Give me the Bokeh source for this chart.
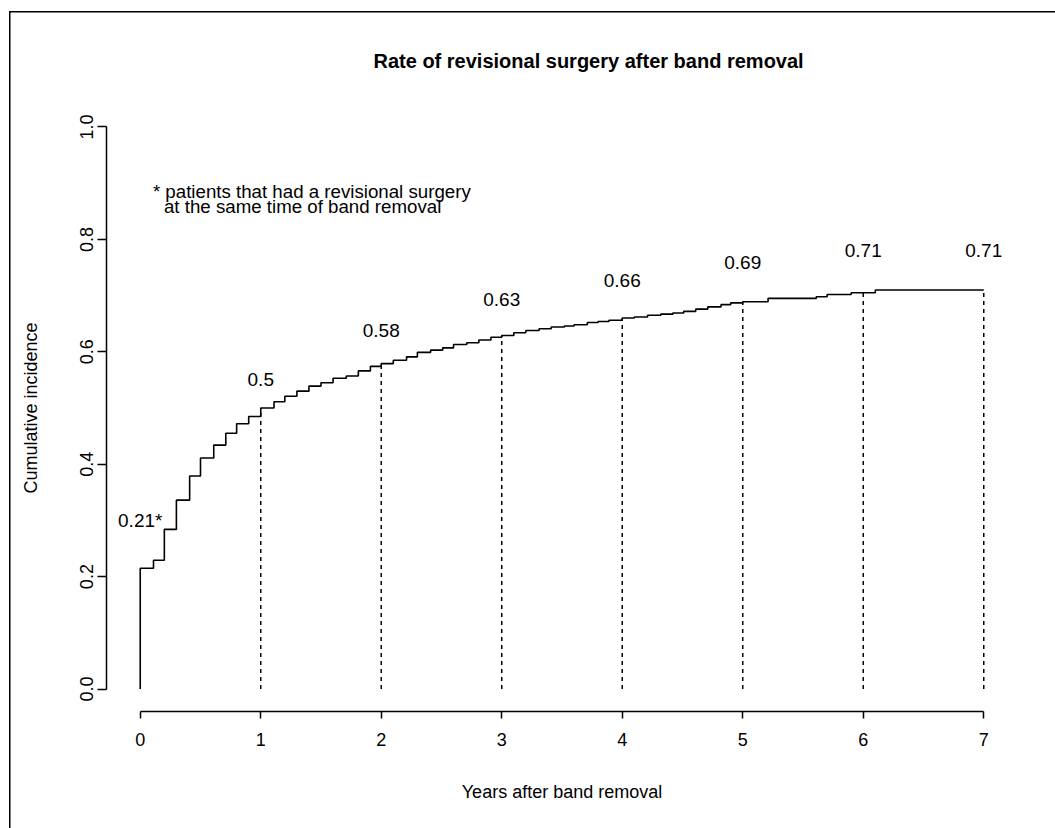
from bokeh.plotting import figure
from bokeh.models import Range1d, FixedTicker, Title, ColumnDataSource
from bokeh.core.properties import value
from bokeh.embed import file_html
from bokeh.resources import INLINE

# ---- data ----
step_years = [0.0, 0.0, 0.11, 0.20, 0.30, 0.41, 0.50, 0.61, 0.71, 0.80, 0.90,
              1.00, 1.11, 1.20, 1.30, 1.40, 1.50, 1.60, 1.71, 1.81, 1.91,
              2.00, 2.10, 2.21, 2.30, 2.41, 2.51, 2.60, 2.71, 2.81, 2.91,
              3.00, 3.10, 3.20, 3.31, 3.41, 3.52, 3.60, 3.71, 3.80, 3.89,
              4.00, 4.10, 4.21, 4.32, 4.42, 4.51, 4.61, 4.71, 4.82, 4.90,
              5.00, 5.21, 5.61, 5.70, 5.90, 6.10, 7.00]
step_incidence = [0.0, 0.215, 0.229, 0.284, 0.336, 0.379, 0.411, 0.434, 0.455, 0.472, 0.485,
                  0.500, 0.511, 0.521, 0.530, 0.539, 0.545, 0.553, 0.557, 0.566, 0.574,
                  0.579, 0.585, 0.591, 0.599, 0.603, 0.607, 0.613, 0.616, 0.621, 0.626,
                  0.629, 0.634, 0.638, 0.641, 0.644, 0.646, 0.648, 0.652, 0.654, 0.656,
                  0.660, 0.662, 0.665, 0.667, 0.669, 0.672, 0.676, 0.680, 0.684, 0.687,
                  0.689, 0.695, 0.698, 0.702, 0.705, 0.710, 0.710]

mark_years = [1, 2, 3, 4, 5, 6, 7]
mark_values = [0.500, 0.579, 0.629, 0.660, 0.689, 0.705, 0.710]
mark_labels = ["0.5", "0.58", "0.63", "0.66", "0.69", "0.71", "0.71"]

first_label = "0.21*"
x_ticks = [0, 1, 2, 3, 4, 5, 6, 7]
y_ticks = [0.0, 0.2, 0.4, 0.6, 0.8, 1.0]
y_tick_labels = ["0.0", "0.2", "0.4", "0.6", "0.8", "1.0"]

title_text = "Rate of revisional surgery after band removal"
note_line1 = "* patients that had a revisional surgery"
note_line2 = "at the same time of band removal"

FONT = "Liberation Sans"

p = figure(width=1055, height=828, output_backend="svg", toolbar_location=None,
           x_range=Range1d(-0.28, 7.28), y_range=Range1d(-0.04, 1.04),
           min_border_left=106, min_border_right=38, min_border_top=104, min_border_bottom=117,
           background_fill_color="white", border_fill_color=None)
p.outline_line_color = None
p.grid.visible = False

# outer frame line of the figure (left and top edges), drawn behind the transparent border area
p.styles = {
    "background-color": "white",
    "background-image": "linear-gradient(#000, #000), linear-gradient(#000, #000)",
    "background-size": "1.5px 100%, 100% 1.5px",
    "background-position": "9px 11px, 9px 11px",
    "background-repeat": "no-repeat",
}

# title
t = Title(text=title_text, align="left", text_font=FONT, text_font_size="20px",
          text_font_style="bold", text_color="black", offset=267, standoff=66)
p.add_layout(t, "above")

# axes
for ax in (p.xaxis[0], p.yaxis[0]):
    ax.axis_line_color = "black"
    ax.axis_line_width = 1.5
    ax.major_tick_line_color = "black"
    ax.major_tick_line_width = 1.5
    ax.minor_tick_line_color = None
    ax.major_tick_in = 0
    ax.major_label_text_font = FONT
    ax.major_label_text_font_size = "18px"
    ax.major_label_text_color = "black"
    ax.axis_label_text_font = FONT
    ax.axis_label_text_font_size = "18px"
    ax.axis_label_text_font_style = "normal"
    ax.axis_label_text_color = "black"

xa = p.xaxis[0]
xa.ticker = FixedTicker(ticks=x_ticks)
xa.bounds = (0, 7)
xa.major_tick_out = 7
xa.major_label_standoff = 14
xa.axis_label = "Years after band removal"
xa.axis_label_standoff = 33

ya = p.yaxis[0]
ya.ticker = FixedTicker(ticks=y_ticks)
ya.major_label_overrides = {v: s for v, s in zip(y_ticks, y_tick_labels)}
ya.bounds = (0, 1)
ya.major_tick_out = 9
ya.major_label_orientation = "vertical"
ya.major_label_standoff = 4
ya.axis_label = "Cumulative incidence"
ya.axis_label_standoff = 37

# curve
p.step(step_years, step_incidence, mode="after", line_color="black", line_width=1.6)

# dashed verticals
p.segment(x0=mark_years, y0=[0] * len(mark_years), x1=mark_years, y1=mark_values,
          line_color="black", line_width=1.5, line_dash="4 4")

# value labels (placed 10% above the value)
src = ColumnDataSource(dict(x=mark_years, y=[float(l) * 1.1 for l in mark_labels], t=mark_labels))
p.text(x="x", y="y", text="t", source=src, text_align="center", text_baseline="middle",
       text_font=value(FONT), text_font_size="19px", text_color="black")
p.text(x=[0], y=[0.3], text=[first_label], text_align="center", text_baseline="middle",
       text_font=value(FONT), text_font_size="19px", text_color="black")

# note
p.text(x=[0.105], y=[0.886], text=[note_line1], text_align="left", text_baseline="alphabetic",
       text_font=value(FONT), text_font_size="18.7px", text_color="black")
p.text(x=[0.197], y=[0.859], text=[note_line2], text_align="left", text_baseline="alphabetic",
       text_font=value(FONT), text_font_size="18.7px", text_color="black")

open("out.html", "w").write(file_html(p, INLINE))
